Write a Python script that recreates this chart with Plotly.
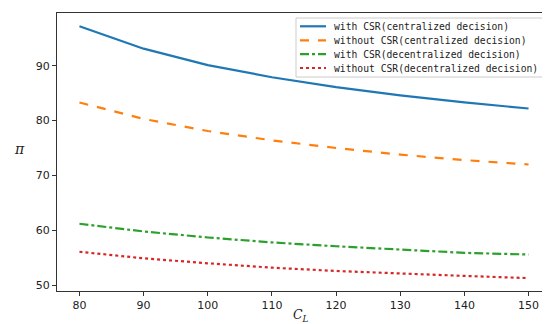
import plotly.graph_objects as go

c_l = [80, 90, 100, 110, 120, 130, 140, 150]
with_csr_central = [97.2, 93.1, 90.1, 87.9, 86.1, 84.6, 83.3, 82.2]
without_csr_central = [83.3, 80.3, 78.1, 76.4, 75.0, 73.8, 72.8, 72.0]
with_csr_decentral = [61.2, 59.8, 58.7, 57.8, 57.1, 56.5, 55.9, 55.6]
without_csr_decentral = [56.1, 54.9, 54.0, 53.2, 52.6, 52.1, 51.7, 51.3]

names = [
    "with CSR(centralized decision)",
    "without CSR(centralized decision)",
    "with CSR(decentralized decision)",
    "without CSR(decentralized decision)",
]
series = [with_csr_central, without_csr_central, with_csr_decentral, without_csr_decentral]
colors = ["#1f77b4", "#ff7f0e", "#2ca02c", "#d62728"]
dashes = ["solid", "dash", "dashdot", "dot"]

W, H = 550, 324
ML, MR, MT, MB = 49, 7, 5, 41
PW, PH = W - ML - MR, H - MT - MB


def px(x):
    return (x - ML) / PW


def py(y):
    return (H - MB - y) / PH


fig = go.Figure()
for n, s, c, d in zip(names, series, colors, dashes):
    fig.add_trace(go.Scatter(x=c_l, y=s, mode="lines", name=n, showlegend=False,
                             line=dict(color=c, width=2.2, dash=d)))

axis_common = dict(showgrid=False, zeroline=False, showline=True, mirror=True,
                   linecolor="#333333", linewidth=1, ticks="outside", ticklen=4,
                   tickcolor="#333333", tickfont=dict(family="DejaVu Sans", size=11, color="#222222"))

shapes = [dict(type="rect", xref="paper", yref="paper",
               x0=px(288), x1=px(537), y0=py(69), y1=py(10),
               line=dict(color="#cccccc", width=1), fillcolor="rgba(255,255,255,0.9)", layer="above")]
annotations = []
row_y = [18.3, 32.3, 46.2, 60.0]
for n, c, d, ry in zip(names, colors, dashes, row_y):
    shapes.append(dict(type="line", xref="paper", yref="paper",
                       x0=px(292), x1=px(318), y0=py(ry), y1=py(ry),
                       line=dict(color=c, width=2.2, dash=d), layer="above"))
    annotations.append(dict(text=n, xref="paper", yref="paper", x=px(324), y=py(ry),
                            xanchor="left", yanchor="middle", showarrow=False,
                            font=dict(family="DejaVu Sans Mono", size=9.7, color="#222222")))

annotations.append(dict(text="<i>C<sub>L</sub></i>", xref="paper", yref="paper",
                        x=px(293), y=py(307), xanchor="center", yanchor="middle", showarrow=False,
                        font=dict(family="DejaVu Serif", size=12.5, color="#222222")))
annotations.append(dict(text="<i>π</i>", xref="paper", yref="paper",
                        x=px(11), y=py(141), xanchor="center", yanchor="middle", showarrow=False,
                        font=dict(family="DejaVu Serif", size=14, color="#222222")))

fig.update_layout(
    width=W, height=H,
    margin=dict(l=ML, r=MR, t=MT, b=MB),
    paper_bgcolor="white", plot_bgcolor="white",
    xaxis=dict(range=[76.5, 153.5], tickvals=[80, 90, 100, 110, 120, 130, 140, 150], **axis_common),
    yaxis=dict(range=[48.95, 99.6], tickvals=[50, 60, 70, 80, 90], **axis_common),
    shapes=shapes,
    annotations=annotations,
    showlegend=False,
)

fig.write_html("out.html")
